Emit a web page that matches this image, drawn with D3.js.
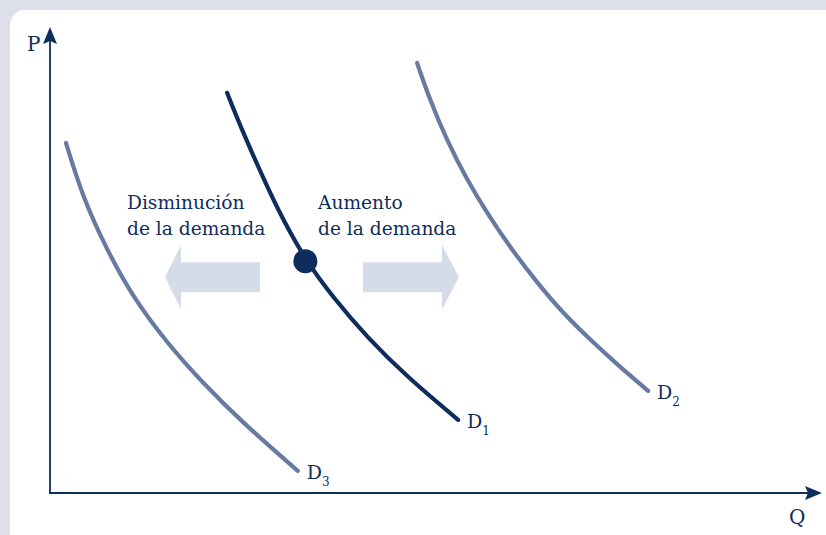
<!DOCTYPE html>
<html>
<head>
<meta charset="utf-8">
<script src="https://d3js.org/d3.v7.min.js"></script>
<style>
  html, body { margin: 0; padding: 0; background: #dde0ea; }
  svg { display: block; }
  text { font-family: "DejaVu Serif", "Liberation Serif", serif; fill: #0f2d5c; }
</style>
</head>
<body>
<svg id="chart" width="826" height="535"></svg>
<script>
// demand curves (Q, P in 0..100 units)
const demand1 = [[23.3, 87.0], [25.4, 78.3], [28.6, 66.5], [30.7, 59.3], [33.6, 50.7],
                 [37.2, 42.6], [41.7, 33.9], [47.0, 25.2], [53.7, 15.9]];
const demand2 = [[48.3, 93.5], [50.0, 85.4], [52.2, 76.7], [54.9, 68.0], [57.5, 60.9],
                 [60.5, 53.5], [64.1, 45.7], [67.5, 39.1], [71.1, 33.3], [74.7, 27.8], [78.7, 22.2]];
const demand3 = [[2.1, 76.1], [4.3, 64.3], [7.5, 52.8], [10.9, 42.6], [15.4, 32.6],
                 [20.1, 23.9], [25.4, 15.2], [32.6, 4.8]];
const equilibrium = [33.6, 50.4];
const curveNames = ["D1", "D2", "D3"];
const axisLabels = ["Q", "P"];
const leftText = ["Disminución", "de la demanda"];
const rightText = ["Aumento", "de la demanda"];

const navy = "#0f2d5c", slate = "#667aa2", pale = "#d5dbe7";

const svg = d3.select("#chart");

// frame: grey band with white rounded panel
svg.append("rect").attr("width", 826).attr("height", 535).attr("fill", "#dde0ea");
svg.append("rect").attr("x", 10).attr("y", 10).attr("width", 840).attr("height", 545)
    .attr("rx", 15).attr("fill", "#fff");

const x = d3.scaleLinear().domain([0, 100]).range([50, 810]);
const y = d3.scaleLinear().domain([0, 100]).range([493, 33]);

// axes with arrow heads
svg.append("line").attr("x1", x(0)).attr("y1", y(0)).attr("x2", x(0)).attr("y2", 40)
    .attr("stroke", navy).attr("stroke-width", 1.8);
svg.append("path").attr("d", `M${x(0)},27 L${x(0)+7},44 L${x(0)},41 L${x(0)-7},44 Z`).attr("fill", navy);
svg.append("line").attr("x1", x(0) - 1).attr("y1", y(0)).attr("x2", 808).attr("y2", y(0))
    .attr("stroke", navy).attr("stroke-width", 1.8);
svg.append("path").attr("d", `M822,${y(0)} L805,${y(0)-7} L808,${y(0)} L805,${y(0)+7} Z`).attr("fill", navy);

svg.append("text").attr("x", 27).attr("y", 51).attr("font-size", 20).text(axisLabels[1]);
svg.append("text").attr("x", 789).attr("y", 524).attr("font-size", 20).text(axisLabels[0]);

// shift arrows
function arrow(bodyFrom, bodyTo, tip) {
  const yc = y(equilibrium[1]) + 16;
  return `M${bodyFrom},${yc - 15} L${bodyTo},${yc - 15} L${bodyTo},${yc - 32} L${tip},${yc} ` +
         `L${bodyTo},${yc + 32} L${bodyTo},${yc + 15} L${bodyFrom},${yc + 15} Z`;
}
svg.append("path").attr("d", arrow(260, 181, 165)).attr("fill", pale);
svg.append("path").attr("d", arrow(363, 442, 459)).attr("fill", pale);

const line = d3.line().x(d => x(d[0])).y(d => y(d[1])).curve(d3.curveBasis);

const series = [
  { name: curveNames[0], data: demand1, color: navy },
  { name: curveNames[1], data: demand2, color: slate },
  { name: curveNames[2], data: demand3, color: slate }
];

svg.selectAll(".curve").data(series).join("path")
    .attr("class", "curve")
    .attr("d", d => line(d.data))
    .attr("fill", "none")
    .attr("stroke", d => d.color)
    .attr("stroke-width", 4.2)
    .attr("stroke-linecap", "round");

// curve labels D with subscript
const lab = svg.selectAll(".clabel").data(series).join("text")
    .attr("class", "clabel")
    .attr("x", d => x(d.data[d.data.length - 1][0]) + 9)
    .attr("y", d => y(d.data[d.data.length - 1][1]) + 8)
    .attr("font-size", 19);
lab.append("tspan").text(d => d.name[0]);
lab.append("tspan").attr("dy", 7).attr("font-size", 12).text(d => d.name.slice(1));

// equilibrium point
svg.append("circle").attr("cx", x(equilibrium[0])).attr("cy", y(equilibrium[1]))
    .attr("r", 12).attr("fill", navy);

// annotation text
function block(lines, xPos) {
  const t = svg.append("text").attr("x", xPos).attr("y", 209).attr("font-size", 18.6);
  lines.forEach((s, i) => t.append("tspan").attr("x", xPos).attr("dy", i ? 26 : 0).text(s));
}
block(leftText, 127);
block(rightText, 318);
</script>
</body>
</html>
